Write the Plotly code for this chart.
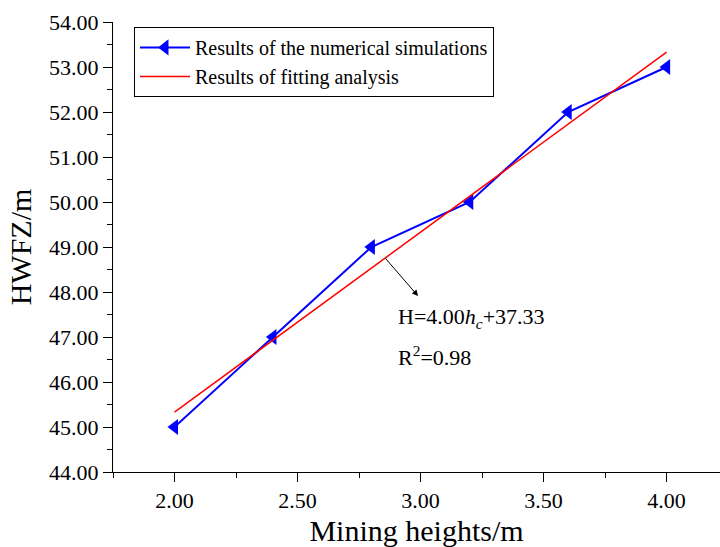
import plotly.graph_objects as go

heights = [2.0, 2.4, 2.8, 3.2, 3.6, 4.0]
hwfz = [45.0, 47.0, 49.0, 50.0, 52.0, 53.0]
fit_x = [2.0, 4.0]
slope, intercept = 4.00, 37.33
fit_y = [slope * v + intercept for v in fit_x]

font = "Liberation Serif"
fig = go.Figure()
fig.add_trace(go.Scatter(x=heights, y=hwfz, mode="lines+markers",
                         name="Results of the numerical simulations",
                         line=dict(color="#0000ff", width=2),
                         marker=dict(symbol="triangle-left", size=14, color="#0000ff")))
fig.add_trace(go.Scatter(x=fit_x, y=fit_y, mode="lines",
                         name="Results of fitting analysis",
                         line=dict(color="#ff0000", width=1.5)))

fig.update_layout(
    width=720, height=547,
    margin=dict(l=113, r=0, t=22, b=75),
    paper_bgcolor="white", plot_bgcolor="white",
    font=dict(family=font, color="black"),
    showlegend=True,
    legend=dict(x=0.0346, y=0.989, xanchor="left", yanchor="top",
                bordercolor="black", borderwidth=1, bgcolor="white",
                font=dict(family=font, size=20), itemwidth=50,
                tracegroupgap=0),
    xaxis=dict(range=[1.75, 4.217], tickvals=[2.0, 2.5, 3.0, 3.5, 4.0],
               ticktext=["2.00", "2.50", "3.00", "3.50", "4.00"],
               ticks="outside", ticklen=9, tickwidth=1, tickcolor="black",
               minor=dict(dtick=0.25, tick0=1.75, ticks="outside", ticklen=5, tickcolor="black"),
               showline=True, linecolor="black", linewidth=1, showgrid=False, zeroline=False,
               tickfont=dict(size=22), automargin=False,
               title=dict(text="Mining heights/m", font=dict(size=30), standoff=10)),
    yaxis=dict(range=[44, 54], tickvals=list(range(44, 55)),
               ticktext=[f"{v:.2f}" for v in range(44, 55)],
               ticks="outside", ticklen=9, tickwidth=1, tickcolor="black",
               minor=dict(dtick=0.5, ticks="outside", ticklen=5, tickcolor="black"),
               showline=True, linecolor="black", linewidth=1, showgrid=False, zeroline=False,
               tickfont=dict(size=22), automargin=False,
               title=dict(text="HWFZ/m", font=dict(size=30), standoff=8)),
)

fig.add_annotation(x=2.990, y=47.91, ax=2.852, ay=48.78, axref="x", ayref="y",
                   xref="x", yref="y", text="", showarrow=True,
                   arrowhead=2, arrowsize=1.2, arrowwidth=1, arrowcolor="black")
fig.add_annotation(x=2.90, y=47.42, xref="x", yref="y", xanchor="left", yanchor="middle",
                   text="H=4.00<i>h</i><sub><i>c</i></sub>+37.33", showarrow=False,
                   font=dict(family=font, size=22))
fig.add_annotation(x=2.90, y=46.58, xref="x", yref="y", xanchor="left", yanchor="middle",
                   text="R<sup>2</sup>=0.98", showarrow=False,
                   font=dict(family=font, size=22))

fig.write_html("out.html", config={"displayModeBar": False},
               post_script="document.body.style.margin='0';document.body.style.overflow='hidden';")
